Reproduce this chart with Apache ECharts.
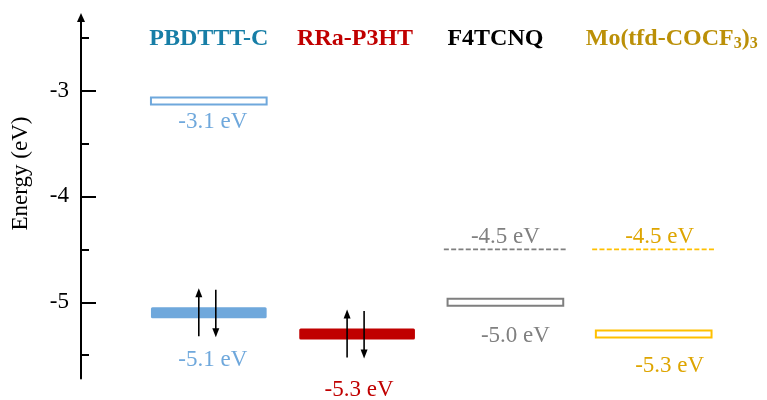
<!DOCTYPE html>
<html>
<head>
<meta charset="utf-8">
<script src="https://cdn.jsdelivr.net/npm/echarts@6/dist/echarts.min.js"></script>
<style>
  html, body { margin: 0; padding: 0; background: #fff; }
  #chart { width: 767px; height: 400px; }
</style>
</head>
<body>
<div id="chart"></div>
<script>
// Columns of the energy diagram
const materials = ['PBDTTT-C', 'RRa-P3HT', 'F4TCNQ', 'Mo(tfd-COCF3)3'];
// Empty levels (open boxes), eV
const openLevels = [['PBDTTT-C', -3.1], ['F4TCNQ', -5.0], ['Mo(tfd-COCF3)3', -5.3]];
// Occupied levels holding an electron pair (filled boxes), eV
const filledLevels = [['PBDTTT-C', -5.1], ['RRa-P3HT', -5.3]];
// Work function levels (dashed lines), eV
const dashedLevels = [['F4TCNQ', -4.5], ['Mo(tfd-COCF3)3', -4.5]];
// Energy axis ticks
const majorTicks = [-5, -4, -3];
const minorTicks = [-5.5, -4.5, -3.5, -2.5];
const yMin = -5.72;
const yMax = -2.31;

// ---- styling ----
const FONT = '"Liberation Serif", "DejaVu Serif", serif';
const TEXT_SIZE = 23;
const HEAD_SIZE = 24;
const palette = {
  'PBDTTT-C':       { head: '#177ea6', level: '#6fa8dc', text: '#6fa8dc' },
  'RRa-P3HT':       { head: '#c00000', level: '#c00000', text: '#c00000' },
  'F4TCNQ':         { head: '#000000', level: '#7f7f7f', text: '#808080' },
  'Mo(tfd-COCF3)3': { head: '#bb9008', level: '#ffc000', text: '#dea500' }
};
// value-label placement [dx, dy] in px from the level centre
const labelShift = {
  open:   { 'PBDTTT-C': [4, 21], 'F4TCNQ': [10, 34], 'Mo(tfd-COCF3)3': [16, 32] },
  filled: { 'PBDTTT-C': [4, 47], 'RRa-P3HT': [2, 56] },
  dashed: { 'F4TCNQ': [0, -12], 'Mo(tfd-COCF3)3': [6, -12] }
};
const BOX_FRAC = 0.78;
const DASH_FRAC = 0.83;

function valueLabel(kind, name, p, v) {
  const s = labelShift[kind][name];
  return {
    type: 'text',
    x: p[0] + s[0], y: p[1] + s[1],
    style: {
      text: v.toFixed(1) + ' eV',
      fill: palette[name].text,
      font: TEXT_SIZE + 'px ' + FONT,
      align: 'center', verticalAlign: 'middle'
    }
  };
}

// electron spin arrow from yFrom to the tip at yTo
function arrow(x, yFrom, yTo) {
  const dir = yTo < yFrom ? -1 : 1;
  const headH = 9, headW = 7;
  return [
    { type: 'line', shape: { x1: x, y1: yFrom, x2: x, y2: yTo - dir * headH * 0.6 },
      style: { stroke: '#000', lineWidth: 1.6 } },
    { type: 'polygon',
      shape: { points: [[x, yTo], [x - headW / 2, yTo - dir * headH], [x + headW / 2, yTo - dir * headH]] },
      style: { fill: '#000' } }
  ];
}

function renderOpen(params, api) {
  const idx = api.value(0);
  const v = api.value(1);
  const name = materials[idx];
  const p = api.coord([idx, v]);
  const w = api.size([1, 0])[0] * BOX_FRAC;
  return { type: 'group', children: [
    { type: 'rect', shape: { x: p[0] - w / 2, y: p[1] - 3.5, width: w, height: 7 },
      style: { fill: '#fff', stroke: palette[name].level, lineWidth: 2 } },
    valueLabel('open', name, p, v)
  ]};
}

function renderFilled(params, api) {
  const idx = api.value(0);
  const v = api.value(1);
  const name = materials[idx];
  const p = api.coord([idx, v]);
  const w = api.size([1, 0])[0] * BOX_FRAC;
  return { type: 'group', children: [
    { type: 'rect', shape: { x: p[0] - w / 2, y: p[1] - 5.5, width: w, height: 11, r: 1.5 },
      style: { fill: palette[name].level } },
    ...arrow(p[0] - 10, p[1] + 23.5, p[1] - 24.5),
    ...arrow(p[0] + 7, p[1] - 23, p[1] + 24.5),
    valueLabel('filled', name, p, v)
  ]};
}

function renderDashed(params, api) {
  const idx = api.value(0);
  const v = api.value(1);
  const name = materials[idx];
  const p = api.coord([idx, v]);
  const w = api.size([1, 0])[0] * DASH_FRAC;
  return { type: 'group', children: [
    { type: 'line', shape: { x1: p[0] - w / 2, y1: p[1], x2: p[0] + w / 2, y2: p[1] },
      style: { stroke: palette[name].level, lineWidth: 1.8, lineDash: [5, 2.3] } },
    valueLabel('dashed', name, p, v)
  ]};
}

// heading labels, with per-column nudges and subscripts
const headRich = {};
const headNudge = [[0, 0], [0, 4], [0, 20], [36, 0]];
materials.forEach((m, i) => {
  headRich['h' + i] = {
    color: palette[m].head, fontFamily: FONT, fontWeight: 'bold', fontSize: HEAD_SIZE,
    padding: [0, headNudge[i][1], 0, 0]
  };
});
headRich.h3lead = { color: palette['Mo(tfd-COCF3)3'].head, fontFamily: FONT, fontWeight: 'bold',
  fontSize: HEAD_SIZE, padding: [0, 0, 0, headNudge[3][0]] };
headRich.sub = { color: palette['Mo(tfd-COCF3)3'].head, fontFamily: FONT, fontWeight: 'bold',
  fontSize: 16, verticalAlign: 'bottom', padding: [9, 0, 0, 0] };

const GRID_LEFT = 134.65;
const AXIS_X = 81;

const chart = echarts.init(document.getElementById('chart'), null, { renderer: 'canvas' });
chart.setOption({
  animation: false,
  backgroundColor: '#fff',
  grid: { left: GRID_LEFT, right: 39.15, top: 17.4, bottom: 21.5, containLabel: false },
  xAxis: {
    type: 'category',
    data: materials,
    position: 'top',
    axisLine: { show: false },
    axisTick: { show: false },
    splitLine: { show: false },
    axisLabel: {
      inside: true,
      margin: 9,
      interval: 0,
      formatter: function (val, i) {
        if (i === 3) return '{h3lead|Mo(tfd-COCF}{sub|3}{h3|)}{sub|3}';
        return '{h' + i + '|' + val + '}';
      },
      rich: headRich
    }
  },
  yAxis: [
    {
      type: 'value', min: yMin, max: yMax, position: 'left', offset: GRID_LEFT - AXIS_X,
      splitLine: { show: false },
      axisLine: { show: true, lineStyle: { color: '#000', width: 2 },
        symbol: ['none', 'triangle'], symbolSize: [8, 9] },
      axisTick: { show: true, inside: true, length: 15, lineStyle: { color: '#000', width: 2 },
        customValues: majorTicks },
      axisLabel: { show: true, margin: 12, customValues: majorTicks, color: '#000',
        fontFamily: FONT, fontSize: TEXT_SIZE, formatter: v => String(v) }
    },
    {
      type: 'value', min: yMin, max: yMax, position: 'left', offset: GRID_LEFT - AXIS_X,
      splitLine: { show: false },
      axisLine: { show: false },
      axisTick: { show: true, inside: true, length: 8, lineStyle: { color: '#000', width: 2 },
        customValues: minorTicks },
      axisLabel: { show: false }
    }
  ],
  graphic: [{
    type: 'text', x: 21, y: 173.5, rotation: Math.PI / 2,
    style: { text: 'Energy (eV)', font: TEXT_SIZE + 'px ' + FONT, fill: '#000', align: 'center', verticalAlign: 'middle' }
  }],
  series: [
    { type: 'custom', name: 'open', renderItem: renderOpen, data: openLevels, encode: { x: 0, y: 1 }, clip: false },
    { type: 'custom', name: 'filled', renderItem: renderFilled, data: filledLevels, encode: { x: 0, y: 1 }, clip: false },
    { type: 'custom', name: 'dashed', renderItem: renderDashed, data: dashedLevels, encode: { x: 0, y: 1 }, clip: false }
  ]
});
</script>
</body>
</html>
